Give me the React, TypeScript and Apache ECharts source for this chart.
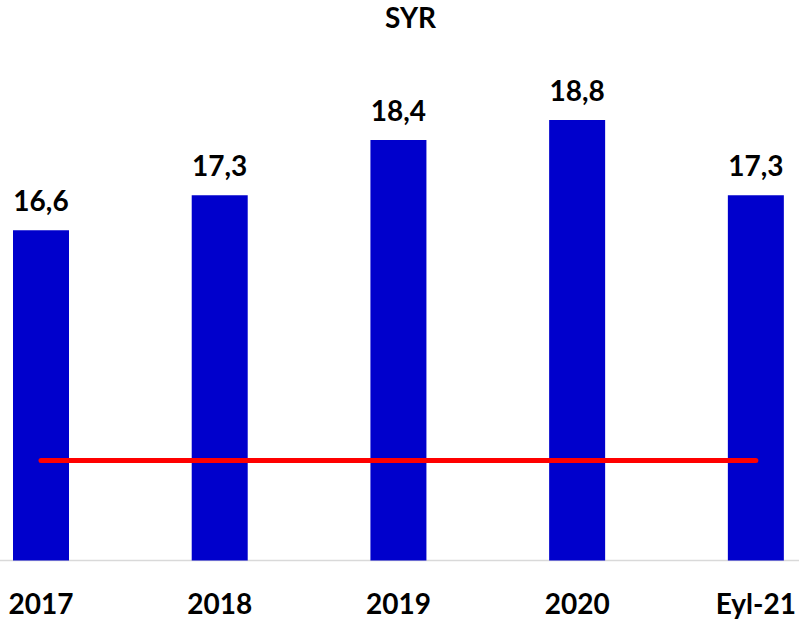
import React, { useEffect, useRef } from "react";
import * as echarts from "echarts";

const categories = ["2017", "2018", "2019", "2020", "Eyl-21"];
const syrValues = [16.6, 17.3, 18.4, 18.8, 17.3];
const thresholdValues = [12, 12, 12, 12, 12];

export default function App() {
  const ref = useRef<HTMLDivElement>(null);
  useEffect(() => {
    if (!ref.current) return;
    const chart = echarts.init(ref.current, null, { renderer: "svg" });
    const font = "Lato, 'Open Sans', sans-serif";
    chart.setOption({
      animation: false,
      backgroundColor: "#ffffff",
      title: {
        text: "SYR",
        left: 380,
        top: -2,
        textStyle: { fontFamily: font, fontWeight: "bold", fontSize: 28, color: "#000" },
      },
      graphic: [
        {
          type: "line",
          shape: { x1: 0, y1: 560.5, x2: 799, y2: 560.5 },
          style: { stroke: "#d9d9d9", lineWidth: 1.5 },
          z: 0,
        },
      ],
      grid: { left: 41, right: 42, top: 60, bottom: 59.5, containLabel: false },
      xAxis: {
        type: "category",
        data: categories,
        boundaryGap: false,
        axisLine: { show: false },
        axisTick: { show: false },
        axisLabel: {
          margin: 28,
          fontFamily: font,
          fontWeight: "bold",
          fontSize: 28,
          color: "#000",
        },
      },
      yAxis: {
        type: "value",
        min: 10,
        max: 20,
        interval: 2,
        show: false,
        splitLine: { show: false },
      },
      series: [
        {
          type: "bar",
          data: syrValues,
          barWidth: 56,
          itemStyle: { color: "#0000CC" },
          label: {
            show: true,
            position: "top",
            distance: 16,
            fontFamily: font,
            fontWeight: "bold",
            fontSize: 28,
            color: "#000",
            formatter: (p: any) => String(p.value.toFixed(1)).replace(".", ","),
          },
        },
        {
          type: "line",
          data: thresholdValues,
          symbol: "none",
          lineStyle: { color: "#FF0000", width: 5, cap: "round" },
          z: 3,
        },
      ],
    });
    return () => chart.dispose();
  }, []);
  return (
    <div
      ref={ref}
      style={{ position: "absolute", left: 0, top: 0, width: 799, height: 620 }}
    />
  );
}
